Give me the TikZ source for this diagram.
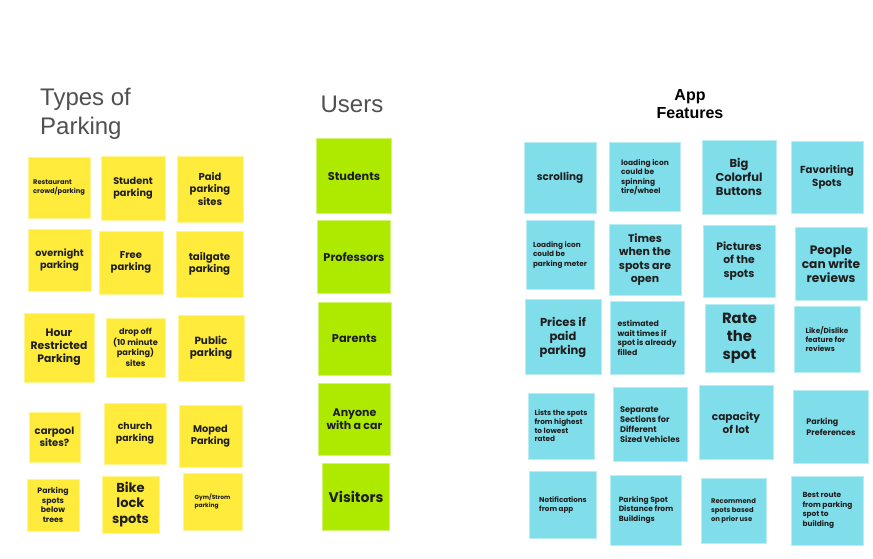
\documentclass[tikz,border=0pt]{standalone}
\usepackage{fontspec}
\setmainfont{Liberation Sans}
\newfontfamily\notefont{Poppins}
\definecolor{noteyellow}{HTML}{FFEB3B}
\definecolor{notegreen}{HTML}{AEEA00}
\definecolor{notecyan}{HTML}{80DEEA}
\definecolor{headgray}{HTML}{505050}
\definecolor{ink}{HTML}{1E1E1E}
\begin{document}
\begin{tikzpicture}[x=1pt,y=-1pt,
  note/.style={inner sep=0pt, text=ink, align=center, line width=0.9pt},
  yel/.style={note, fill=noteyellow, draw=noteyellow!55!white},
  grn/.style={note, fill=notegreen, draw=notegreen!55!white},
  cyn/.style={note, fill=notecyan, draw=notecyan!55!white},
  sz/.style 2 args={minimum width=#1, minimum height=#2},
  fs/.style 2 args={font=\notefont\bfseries\fontsize{#1}{#2}\selectfont},
  lft/.style={align=left},
  heading/.style={text=headgray, font=\fontsize{24}{29}\selectfont, inner sep=0pt}]
\useasboundingbox[fill=white] (0,0) rectangle (873,559);

% column headings (base anchor sits on the last line)
\node[heading, anchor=base west, align=left] (hparking) at (40,135) {Types of\\Parking};
\node[heading, anchor=base] (husers) at (352,113) {Users};
\node[anchor=base, align=center, inner sep=0pt, font=\bfseries\fontsize{16}{17.8}\selectfont] (happ) at (690,118.5) {App\\Features};

% types of parking
\node[yel, sz={62}{61}, fs={6.7}{8.8}, lft] (rest) at (59,187.5) {Restaurant\\crowd/parking};
\node[yel, sz={64}{64}, fs={9.7}{12.3}] (student) at (133,188) {Student\\parking};
\node[yel, sz={66}{66}, fs={10}{12.5}] (paid) at (210,189) {Paid\\parking\\sites};
\node[yel, sz={63}{62}, fs={9.6}{12.5}] (overnight) at (59.5,260) {overnight\\parking};
\node[yel, sz={64}{63}, fs={10}{12.5}] (free) at (131,262.5) {Free\\parking};
\node[yel, sz={67}{66}, fs={10.2}{12.5}] (tailgate) at (209.5,264) {tailgate\\parking};
\node[yel, sz={70}{69}, fs={10.8}{13}] (hour) at (59,347.5) {Hour\\Restricted\\Parking};
\node[yel, sz={59}{59}, fs={8.2}{10.5}] (dropoff) at (135.5,347.5) {drop off\\(10 minute\\parking)\\sites};
\node[yel, sz={66}{66}, fs={10.4}{12.5}] (public) at (211,348) {Public\\parking};
\node[yel, sz={51}{50}, fs={10}{12.5}] (carpool) at (54.5,437) {carpool\\sites?};
\node[yel, sz={62}{61}, fs={9.4}{11.5}] (church) at (135,433.5) {church\\parking};
\node[yel, sz={63}{62}, fs={9.8}{12}] (moped) at (210.5,436) {Moped\\Parking};
\node[yel, sz={52}{52}, fs={7.8}{9.6}] (trees) at (53,505) {Parking\\spots\\below\\trees};
\node[yel, sz={57}{57}, fs={13}{15.5}] (bike) at (130.5,504.5) {Bike\\lock\\spots};
\node[yel, sz={59}{57}, fs={5.9}{8.2}, lft] (gym) at (212.5,501.5) {Gym/Strom\\parking};

% users
\node[grn, sz={75}{75}, fs={11.3}{13}] (students) at (354,176) {Students};
\node[grn, sz={73}{73}, fs={11.3}{13}] (professors) at (354,257) {Professors};
\node[grn, sz={73}{73}, fs={11.3}{13}] (parents) at (354.5,338.5) {Parents};
\node[grn, sz={72}{72}, fs={11}{13}] (anyone) at (354.5,419) {Anyone\\with a car};
\node[grn, sz={67}{67}, fs={14}{16}] (visitors) at (356,496.5) {Visitors};

% app features
\node[cyn, sz={72}{71}, fs={10.4}{12.5}] (scrolling) at (560,178) {scrolling};
\node[cyn, sz={71}{69}, fs={7.5}{9.5}, lft] (tire) at (645,177) {loading icon\\could be\\spinning\\tire/wheel};
\node[cyn, sz={74}{74}, fs={11.5}{13.8}] (buttons) at (739,177) {Big\\Colorful\\Buttons};
\node[cyn, sz={72}{72}, fs={10.2}{13}] (favorite) at (827,177.5) {Favoriting\\Spots};
\node[cyn, sz={68}{69}, fs={7.3}{9.5}, lft] (meter) at (560,255) {Loading icon\\could be\\parking meter};
\node[cyn, sz={72}{71}, fs={10.9}{13.4}] (times) at (645,259.5) {Times\\when the\\spots are\\open};
\node[cyn, sz={72}{72}, fs={10.8}{13.5}] (pictures) at (739,261) {Pictures\\of the\\spots};
\node[cyn, sz={72}{73}, fs={12.2}{13.6}] (reviews) at (831,264) {People\\can write\\reviews};
\node[cyn, sz={76}{75}, fs={11.5}{14}] (prices) at (563,337) {Prices if\\paid\\parking};
\node[cyn, sz={74}{73}, fs={7.8}{9.6}, lft] (wait) at (647,338) {estimated\\wait times if\\spot is already\\filled};
\node[cyn, sz={69}{68}, fs={14.8}{18}] (rate) at (739.5,338) {Rate\\the\\spot};
\node[cyn, sz={66}{66}, fs={7.3}{9}, lft] (like) at (827,339) {Like/Dislike\\feature for\\reviews};
\node[cyn, sz={66}{66}, fs={7.3}{8.6}, lft] (lists) at (561,426) {Lists the spots\\from highest\\to lowest\\rated};
\node[cyn, sz={74}{74}, fs={8.2}{10}, lft] (sections) at (650,424.5) {Separate\\Sections for\\Different\\Sized Vehicles};
\node[cyn, sz={74}{74}, fs={10.5}{13}] (capacity) at (736,422.5) {capacity\\of lot};
\node[cyn, sz={75}{73}, fs={8}{10.5}, lft] (prefs) at (831,427) {Parking\\Preferences};
\node[cyn, sz={67}{67}, fs={7.2}{9}, lft] (notify) at (563,505) {Notifications\\from app};
\node[cyn, sz={71}{70}, fs={7.5}{9.5}, lft] (distance) at (646,510) {Parking Spot\\Distance from\\Buildings};
\node[cyn, sz={65}{65}, fs={6.8}{9}, lft] (recommend) at (733.5,511) {Recommend\\spots based\\on prior use};
\node[cyn, sz={72}{69}, fs={7.4}{9.5}, lft] (route) at (827.5,510.5) {Best route\\from parking\\spot to\\building};
\end{tikzpicture}
\end{document}
